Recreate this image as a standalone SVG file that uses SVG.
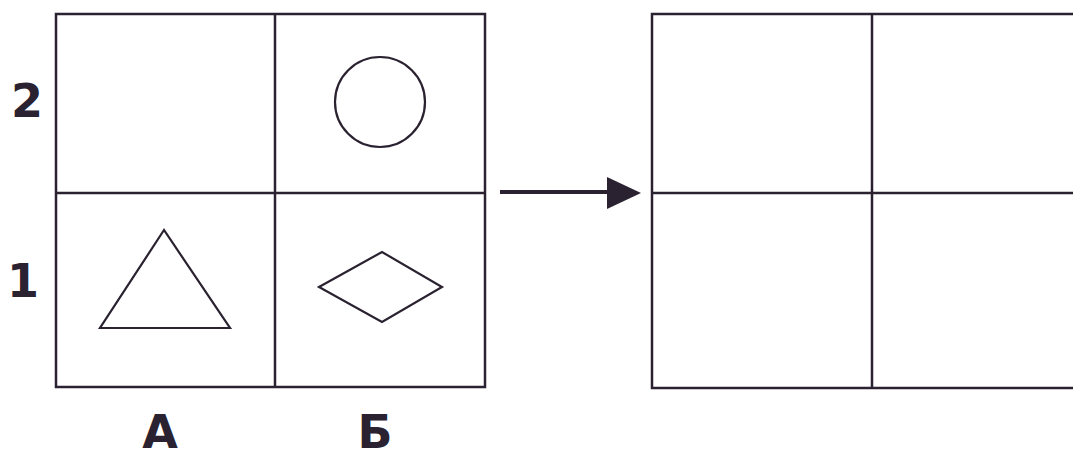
<svg xmlns="http://www.w3.org/2000/svg" width="1073" height="460" viewBox="0 0 1073 460">
<style>
.ln{stroke:#2a2230;stroke-width:2.5;fill:none}
.sh{stroke:#2a2230;stroke-width:2.2;fill:none}
.lb{font-family:"DejaVu Sans",Verdana,sans-serif;font-weight:bold;font-size:46px;fill:#2a2230}
</style>
<rect width="1073" height="460" fill="#ffffff"/>
<g id="grid-left">
<rect class="ln" x="56" y="14" width="429" height="373"/>
<line class="ln" x1="275" y1="14" x2="275" y2="387"/>
<line class="ln" x1="56" y1="193" x2="485" y2="193"/>
</g>
<g id="circle"><circle class="sh" cx="380" cy="102" r="45"/></g>
<g id="triangle"><polygon class="sh" points="164,230 100,328 230,328"/></g>
<g id="diamond"><polygon class="sh" points="319,287 382,252 442,287 382,322"/></g>
<g id="grid-right">
<path class="ln" d="M1075,14 H652 V388 H1075"/>
<line class="ln" x1="872" y1="14" x2="872" y2="388"/>
<line class="ln" x1="652" y1="193" x2="1075" y2="193"/>
</g>
<g id="connectors">
<line x1="500" y1="192" x2="610" y2="192" stroke="#2a2230" stroke-width="4"/>
<path d="M607,177 L641,193 L607,209 Z" fill="#2a2230"/>
</g>
<g id="labels">
<text class="lb" x="27" y="117" text-anchor="middle">2</text>
<text class="lb" x="23" y="297" text-anchor="middle">1</text>
<text class="lb" x="160" y="448" text-anchor="middle">А</text>
<text class="lb" x="375" y="448" text-anchor="middle">Б</text>
</g>
</svg>
